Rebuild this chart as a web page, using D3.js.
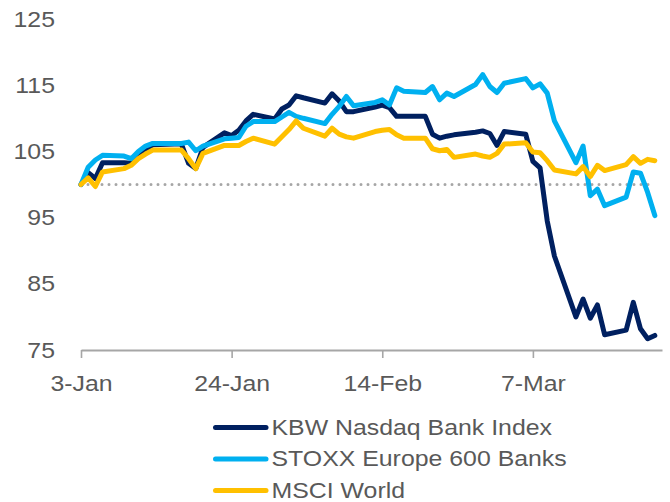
<!DOCTYPE html>
<html>
<head>
<meta charset="utf-8">
<script src="https://cdn.jsdelivr.net/npm/d3@7"></script>
<style>
  html, body { margin: 0; padding: 0; background: #ffffff; }
  svg { display: block; }
  text { font-family: "Liberation Sans", Arial, sans-serif; fill: #595959; }
</style>
</head>
<body>
<svg id="chart" width="670" height="502"></svg>
<script>
// ---- Data ----
const dates = [
  "2023-01-03","2023-01-04","2023-01-05","2023-01-06","2023-01-09","2023-01-10","2023-01-11","2023-01-12","2023-01-13",
  "2023-01-16","2023-01-17","2023-01-18","2023-01-19","2023-01-20","2023-01-23","2023-01-24","2023-01-25","2023-01-26","2023-01-27",
  "2023-01-30","2023-01-31","2023-02-01","2023-02-02","2023-02-03","2023-02-06","2023-02-07","2023-02-08","2023-02-09","2023-02-10",
  "2023-02-13","2023-02-14","2023-02-15","2023-02-16","2023-02-17","2023-02-20","2023-02-21","2023-02-22","2023-02-23","2023-02-24",
  "2023-02-27","2023-02-28","2023-03-01","2023-03-02","2023-03-03","2023-03-06","2023-03-07","2023-03-08","2023-03-09","2023-03-10",
  "2023-03-13","2023-03-14","2023-03-15","2023-03-16","2023-03-17","2023-03-20","2023-03-21","2023-03-22","2023-03-23","2023-03-24"
];
const kbw = [
  100, 101.8, 100.9, 103.3, 103.3, 103.2, 104.3, 105.3, 106.0,
  106.1, 106.1, 103.2, 102.4, 105.6, 107.8, 107.4, 108.2, 109.6, 110.6,
  109.9, 111.4, 112.0, 113.4, 113.1, 112.3, 113.7, 112.6, 111.0, 111.0,
  111.7, 112.0, 111.6, 110.3, 110.3, 110.3, 107.6, 107.0, 107.3, 107.5,
  107.9, 108.1, 107.7, 105.9, 108.0, 107.6, 103.5, 102.5, 94.5, 89.2,
  80.0, 82.7, 79.8, 81.8, 77.3, 78.0, 82.2, 78.2, 76.7, 77.2
];
const stoxx = [
  100, 102.6, 103.7, 104.4, 104.3, 103.9, 105.0, 105.8, 106.2,
  106.2, 106.2, 106.4, 105.1, 105.8, 106.9, 107.0, 107.1, 108.8, 109.5,
  109.5, 110.2, 110.9, 110.3, 110.0, 109.2, 110.6, 111.8, 113.3, 111.9,
  112.4, 112.8, 112.0, 114.6, 114.1, 113.9, 114.8, 112.8, 113.8, 113.3,
  115.1, 116.6, 114.8, 113.9, 115.3, 116.0, 114.6, 115.2, 113.8, 109.6,
  103.3, 105.8, 98.3, 99.3, 96.8, 98.1, 101.9, 101.7, 98.8, 95.3
];
const msci = [
  100, 101.0, 99.7, 101.9, 102.4, 102.9, 103.9, 104.6, 105.2,
  105.2, 105.2, 103.9, 102.4, 104.7, 105.9, 105.9, 105.9, 106.5, 107.0,
  106.1, 107.2, 108.3, 109.6, 108.5, 107.3, 108.5, 107.6, 107.2, 107.0,
  108.0, 108.2, 108.3, 107.5, 107.0, 107.0, 105.4, 105.1, 105.3, 104.1,
  104.6, 104.3, 104.1, 104.7, 106.1, 106.3, 104.9, 104.8, 103.6, 102.2,
  101.6, 102.7, 101.2, 102.9, 102.1, 103.0, 104.2, 103.2, 103.8, 103.6
];
const seriesNames = ["KBW Nasdaq Bank Index", "STOXX Europe 600 Banks", "MSCI World"];
const seriesColors = ["#002060", "#00B0F0", "#FFC000"];
const yTicks = [75, 85, 95, 105, 115, 125];
const xTickDates = ["2023-01-03", "2023-01-24", "2023-02-14", "2023-03-07"];
const xDomain = ["2023-01-03", "2023-03-25"];
const baseline = 100;

// ---- Chart ----
const parse = d3.utcParse("%Y-%m-%d");
const fmt = d3.utcFormat("%-d-%b");
const svg = d3.select("#chart");
const stretch = "scale(1.13,1)";

const x = d3.scaleUtc().domain(xDomain.map(parse)).range([81, 662]);
const y = d3.scaleLinear().domain([75, 125]).range([350, 19]);

// Baseline dotted line at 100
svg.append("line")
  .attr("x1", x(parse(dates[0]))).attr("x2", x(parse(dates[dates.length - 1])))
  .attr("y1", y(baseline)).attr("y2", y(baseline))
  .attr("stroke", "#A6A6A6").attr("stroke-width", 3)
  .attr("stroke-linecap", "round").attr("stroke-dasharray", "0 7");

// X axis
const xAxis = d3.axisBottom(x)
  .tickValues(xTickDates.map(parse))
  .tickFormat(fmt)
  .tickSize(8).tickSizeOuter(0);
const gx = svg.append("g").attr("transform", `translate(0,${y(75)})`).call(xAxis);
gx.select(".domain").attr("stroke", "#A6A6A6").attr("stroke-width", 2);
gx.selectAll(".tick line").attr("stroke", "#A6A6A6").attr("stroke-width", 1.6);
gx.selectAll(".tick text")
  .attr("y", 41.5).attr("dy", 0)
  .attr("transform", stretch)
  .style("font-size", "22px").style("fill", "#595959")
  .attr("font-family", null);

// Y axis (labels only)
const yAxis = d3.axisLeft(y).tickValues(yTicks).tickSize(0).tickPadding(0);
const gy = svg.append("g").attr("transform", "translate(55,0)").call(yAxis);
gy.select(".domain").remove();
gy.selectAll(".tick text")
  .attr("x", 0).attr("dy", "0.32em")
  .attr("transform", stretch)
  .style("font-size", "22px").style("fill", "#595959")
  .attr("font-family", null);

// Lines
const allSeries = [kbw, stoxx, msci];
const line = d3.line()
  .x((d, i) => x(parse(dates[i])))
  .y(d => y(d));
allSeries.forEach((vals, k) => {
  svg.append("path")
    .datum(vals)
    .attr("fill", "none")
    .attr("stroke", seriesColors[k])
    .attr("stroke-width", 5)
    .attr("stroke-linejoin", "round")
    .attr("stroke-linecap", "round")
    .attr("d", line);
});

// Legend
const legend = svg.append("g");
const legendY = [427.5, 459, 490.5];
seriesNames.forEach((name, k) => {
  legend.append("line")
    .attr("x1", 215.5).attr("x2", 266)
    .attr("y1", legendY[k]).attr("y2", legendY[k])
    .attr("stroke", seriesColors[k]).attr("stroke-width", 5)
    .attr("stroke-linecap", "round");
  legend.append("text")
    .attr("transform", `translate(271.5,${legendY[k] + 7}) ${stretch}`)
    .style("font-size", "22px")
    .text(name);
});
</script>
</body>
</html>
